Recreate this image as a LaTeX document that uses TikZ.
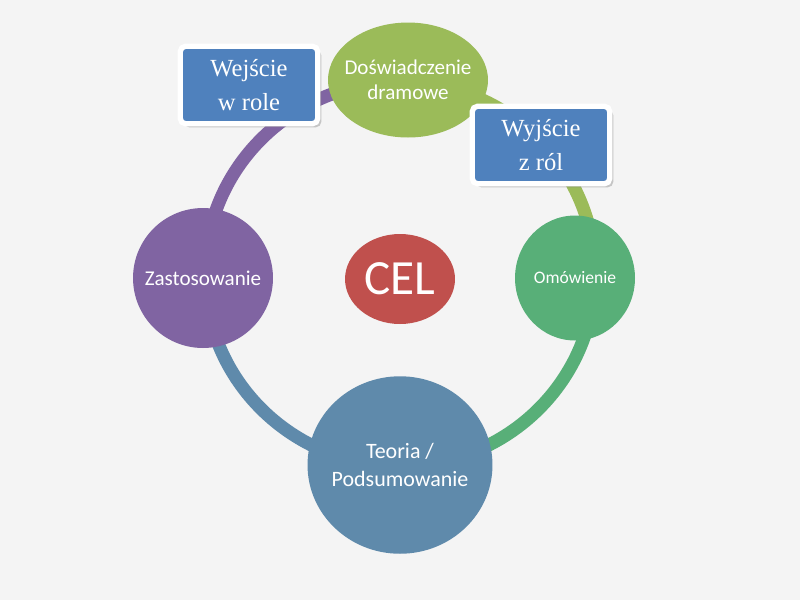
\documentclass[tikz,border=0pt]{standalone}
\usepackage{fontspec}
\setmainfont{Carlito}
\newfontfamily\boxfont{Liberation Serif}
\usetikzlibrary{shadows,shapes.geometric}
\definecolor{bg}{HTML}{F4F4F4}
\definecolor{cpurple}{HTML}{8064A2}
\definecolor{colive}{HTML}{9BBB59}
\definecolor{cgreen}{HTML}{58AF78}
\definecolor{cblue}{HTML}{5F8AAB}
\definecolor{cred}{HTML}{C0504D}
\definecolor{cbox}{HTML}{4F81BD}
\tikzset{
  ell/.style={ellipse, inner sep=0pt},
  elltext/.style={text=white, align=center, font=\fontsize{12}{14}\selectfont},
  rolebox/.style={draw=white, line width=3pt, fill=cbox, rounded corners=3pt, minimum width=2.75cm, minimum height=1.55cm, text=white, align=center, font=\boxfont\fontsize{14}{19}\selectfont, drop shadow={shadow xshift=2pt, shadow yshift=-2pt, opacity=0.4}},
  ringseg/.style={line width=0.26cm}
}
\begin{document}
\begin{tikzpicture}[x=0.02cm,y=-0.02cm]
\fill[bg] (0,0) rectangle (800,600);
\useasboundingbox (0,0) rectangle (800,600);
\coordinate (c) at (400,274);
\draw[ringseg, cpurple] (c) ++(180:195 and 192) arc[start angle=180, end angle=270, x radius=195, y radius=192];
\draw[ringseg, colive] (c) ++(270:195 and 192) arc[start angle=270, end angle=360, x radius=195, y radius=192];
\draw[ringseg, cgreen] (c) ++(0:195 and 192) arc[start angle=0, end angle=90, x radius=195, y radius=192];
\draw[ringseg, cblue] (c) ++(90:195 and 192) arc[start angle=90, end angle=180, x radius=195, y radius=192];
\node[ell, fill=colive, minimum width=3.2cm, minimum height=2.3cm] (dos) at (408,80) {};
\node[elltext] at (dos) {Doświadczenie\\dramowe};
\node[ell, fill=cgreen, minimum width=2.4cm, minimum height=2.5cm] (omo) at (575,278) {};
\node[elltext, font=\fontsize{10}{12}\selectfont] at (omo) {Omówienie};
\node[ell, fill=cblue, minimum width=3.7cm, minimum height=3.55cm] (teo) at (400,465) {};
\node[elltext, font=\fontsize{12.5}{16}\selectfont] at (teo) {Teoria /\\Podsumowanie};
\node[ell, fill=cpurple, minimum width=2.8cm, minimum height=2.8cm] (zas) at (203,278) {};
\node[elltext, font=\fontsize{12}{14}\selectfont] at (zas) {Zastosowanie};
\node[ell, fill=cred, minimum width=2.2cm, minimum height=1.8cm] (cel) at (400,279) {};
\node[elltext, font=\fontsize{28}{32}\selectfont] at (cel) {CEL};
\node[rolebox] (wej) at (249,85) {Wejście\\w role};
\node[rolebox] (wyj) at (541,145) {Wyjście\\z ról};
\end{tikzpicture}
\end{document}
